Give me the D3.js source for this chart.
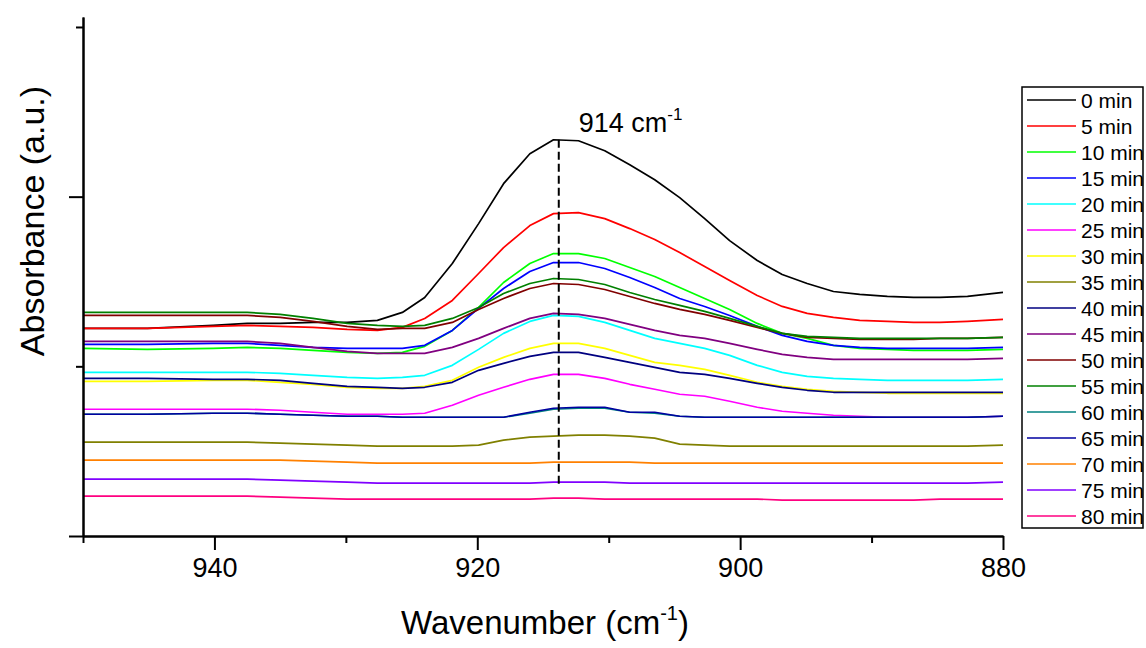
<!DOCTYPE html>
<html>
<head>
<meta charset="utf-8">
<script src="https://cdn.jsdelivr.net/npm/d3@7"></script>
<style>
body { margin: 0; background: #fff; }
text { font-family: "Liberation Sans", Arial, sans-serif; fill: #000; }
</style>
</head>
<body>
<div id="chart"></div>
<script>
// wavenumber grid (cm-1)
var wavenumbers = [950, 945.1, 940.1, 937.5, 935, 932.5, 929.9, 927.6, 925.7, 924.0, 921.9, 919.9, 918.0, 916.0, 914.2, 912.3,
                   910.3, 908.4, 906.5, 904.6, 902.7, 900.8, 898.7, 896.8, 894.9, 892.9, 890.9, 888.8, 886.8, 884.8, 882.7, 880];

// absorbance (a.u.), one array per time
var min0  = [208, 208, 211, 213, 213, 214, 214, 216, 224, 239, 273, 313, 353, 383, 397, 396, 386, 372, 357, 339, 318, 296, 276, 262, 253, 245, 242, 240, 239, 239, 240, 244];
var min5  = [208, 208, 210, 211, 210, 209, 207, 206, 209, 218, 236, 263, 289, 311, 323, 324, 318, 308, 297, 284, 270, 256, 241, 230, 223, 219, 216, 215, 214, 214, 215, 217];
var min10 = [188, 187, 188, 189, 188, 186, 184, 183, 184, 190, 206, 229, 254, 273, 283, 283, 278, 269, 260, 249, 238, 227, 213, 203, 198, 191, 188, 187, 186, 186, 186, 187];
var min15 = [192, 192, 193, 193, 191, 189, 188, 188, 188, 191, 206, 228, 248, 265, 274, 274, 268, 259, 249, 238, 230, 221, 210, 201, 195, 191, 189, 188, 188, 188, 188, 189];
var min20 = [164, 164, 164, 164, 163, 161, 159, 158, 159, 161, 171, 187, 203, 215, 221, 220, 214, 206, 198, 193, 188, 181, 171, 164, 160, 158, 157, 156, 156, 156, 156, 157];
var min25 = [127, 127, 127, 127, 126, 124, 122, 122, 122, 123, 131, 141, 149, 157, 162, 162, 158, 152, 147, 142, 140, 135, 129, 125, 123, 121, 120, 119, 119, 119, 119, 120];
var min30 = [155, 155, 156, 156, 154, 152, 149, 148, 148, 150, 156, 169, 179, 188, 193, 193, 188, 181, 174, 171, 167, 161, 154, 150, 147, 145, 144, 143, 143, 143, 143, 143];
var min35 = [94, 94, 94, 94, 93, 92, 91, 90, 90, 90, 90, 91, 96, 99, 100, 101, 101, 100, 98, 92, 91, 90, 90, 90, 90, 90, 90, 90, 90, 90, 90, 91];
var min40 = [158, 158, 157, 157, 156, 153, 150, 149, 148, 149, 154, 166, 173, 180, 184, 184, 179, 174, 169, 164, 162, 158, 153, 149, 146, 144, 144, 144, 144, 144, 144, 144];
var min45 = [195, 195, 195, 195, 193, 189, 185, 183, 183, 183, 189, 198, 208, 218, 223, 222, 218, 212, 206, 201, 198, 193, 187, 182, 179, 177, 177, 177, 177, 177, 177, 178];
var min50 = [221, 221, 221, 221, 219, 215, 210, 207, 208, 208, 214, 227, 238, 248, 253, 252, 247, 240, 233, 227, 222, 216, 209, 203, 199, 198, 197, 197, 197, 198, 198, 199];
var min55 = [224, 224, 224, 224, 222, 218, 213, 211, 210, 211, 218, 229, 243, 253, 258, 257, 252, 244, 237, 231, 225, 218, 210, 203, 200, 199, 198, 198, 198, 198, 198, 199];
var min60 = [122, 122, 123, 123, 122, 121, 120, 120, 119, 119, 119, 119, 119, 123, 127, 128, 128, 124, 123, 120, 119, 119, 119, 119, 119, 119, 119, 119, 119, 119, 119, 120];
var min65 = [122, 122, 123, 123, 122, 121, 120, 120, 119, 119, 119, 119, 119, 124, 128, 129, 129, 124, 124, 120, 119, 119, 119, 119, 119, 119, 119, 119, 119, 119, 119, 120];
var min70 = [76, 76, 76, 76, 76, 75, 74, 73, 73, 73, 73, 73, 73, 73, 74, 74, 74, 74, 73, 73, 73, 73, 73, 73, 73, 73, 73, 73, 73, 73, 73, 73];
var min75 = [57, 57, 57, 57, 56, 55, 54, 53, 53, 53, 53, 53, 53, 53, 54, 54, 54, 53, 53, 53, 53, 53, 53, 53, 53, 53, 53, 53, 53, 53, 53, 54];
var min80 = [40, 40, 40, 40, 39, 38, 37, 37, 37, 37, 37, 37, 37, 37, 38, 38, 37, 37, 37, 37, 37, 37, 37, 36, 36, 36, 36, 36, 36, 37, 37, 37];

var labels = ["0 min", "5 min", "10 min", "15 min", "20 min", "25 min", "30 min", "35 min", "40 min",
              "45 min", "50 min", "55 min", "60 min", "65 min", "70 min", "75 min", "80 min"];
var colors = ["#000000", "#ff0000", "#00ff00", "#0000ff", "#00ffff", "#ff00ff", "#ffff00", "#808000", "#000080",
              "#800080", "#800000", "#008000", "#008080", "#0000a0", "#ff8000", "#8000ff", "#ff0080"];
var allSeries = [min0, min5, min10, min15, min20, min25, min30, min35, min40,
                 min45, min50, min55, min60, min65, min70, min75, min80];

var xMajor = [940, 920, 900, 880];
var xMinor = [950, 930, 910, 890];
var yMajor = [0, 340];
var yMinor = [170, 510];

var peakWn = 913.8;      // dashed marker
var peakLabel = "914 cm";
var dashBottom = 50;

var width = 1146, height = 648;

var svg = d3.select("#chart").append("svg")
    .attr("width", width)
    .attr("height", height);

var x = d3.scaleLinear().domain([950, 880]).range([83, 1003]);
var y = d3.scaleLinear().domain([0, 520]).range([536, 17]);

// curves
var line = d3.line()
    .x(function(d, i) { return x(wavenumbers[i]); })
    .y(function(d) { return y(d); });

svg.append("g").selectAll("path")
    .data(allSeries)
    .enter().append("path")
    .attr("d", line)
    .attr("fill", "none")
    .attr("stroke", function(d, i) { return colors[i]; })
    .attr("stroke-width", 1.7)
    .attr("stroke-linejoin", "round");

// dashed marker at peak
svg.append("line")
    .attr("x1", x(peakWn)).attr("x2", x(peakWn))
    .attr("y1", y(d3.max(min0))).attr("y2", y(dashBottom))
    .attr("stroke", "#000")
    .attr("stroke-width", 2)
    .attr("stroke-dasharray", "8,4");

var pl = svg.append("text")
    .attr("x", x(peakWn) + 20)
    .attr("y", 132)
    .style("font-size", "27px");
pl.append("tspan").text(peakLabel);
pl.append("tspan").attr("dy", -12).style("font-size", "17px").text("-1");

// axes
var xAxis = svg.append("g")
    .attr("transform", "translate(0,536)")
    .call(d3.axisBottom(x).tickValues(xMajor).tickSize(14).tickSizeOuter(0).tickPadding(8).tickFormat(d3.format("d")));
svg.append("g")
    .attr("transform", "translate(0,536)")
    .call(d3.axisBottom(x).tickValues(xMinor).tickSize(7).tickSizeOuter(0).tickFormat(""));

var yAxis = svg.append("g")
    .attr("transform", "translate(83,0)")
    .call(d3.axisLeft(y).tickValues(yMajor).tickSize(14).tickSizeOuter(0).tickFormat(""));
svg.append("g")
    .attr("transform", "translate(83,0)")
    .call(d3.axisLeft(y).tickValues(yMinor).tickSize(7).tickSizeOuter(0).tickFormat(""));

svg.selectAll(".domain, .tick line")
    .attr("stroke", "#000")
    .attr("stroke-width", 2);
xAxis.selectAll("text")
    .style("font-size", "27px")
    .style("font-family", "'Liberation Sans', Arial, sans-serif")
    .attr("fill", "#000");

// axis titles
var xt = svg.append("text")
    .attr("x", 545)
    .attr("y", 634)
    .attr("text-anchor", "middle")
    .style("font-size", "33px");
xt.append("tspan").text("Wavenumber (cm");
xt.append("tspan").attr("dy", -14).style("font-size", "20px").text("-1");
xt.append("tspan").attr("dy", 14).text(")");

svg.append("text")
    .attr("transform", "translate(44,221) rotate(-90)")
    .attr("text-anchor", "middle")
    .style("font-size", "34px")
    .text("Absorbance (a.u.)");

// legend
var legX = 1022, legY = 87, legW = 121, legH = 441, rowH = 26;

svg.append("clipPath").attr("id", "legclip")
    .append("rect").attr("x", legX).attr("y", legY).attr("width", legW).attr("height", legH);

var leg = svg.append("g").attr("clip-path", "url(#legclip)");

var rows = leg.selectAll("g")
    .data(labels)
    .enter().append("g")
    .attr("transform", function(d, i) { return "translate(" + legX + "," + (legY + 13 + i * rowH) + ")"; });

rows.append("line")
    .attr("x1", 5).attr("x2", 54)
    .attr("stroke", function(d, i) { return colors[i]; })
    .attr("stroke-width", 1.7);

rows.append("text")
    .attr("x", 59)
    .attr("y", 7.5)
    .style("font-size", "21px")
    .text(function(d) { return d; });

svg.append("rect")
    .attr("x", legX).attr("y", legY)
    .attr("width", legW).attr("height", legH)
    .attr("fill", "none")
    .attr("stroke", "#000")
    .attr("stroke-width", 1.5);
</script>
</body>
</html>
